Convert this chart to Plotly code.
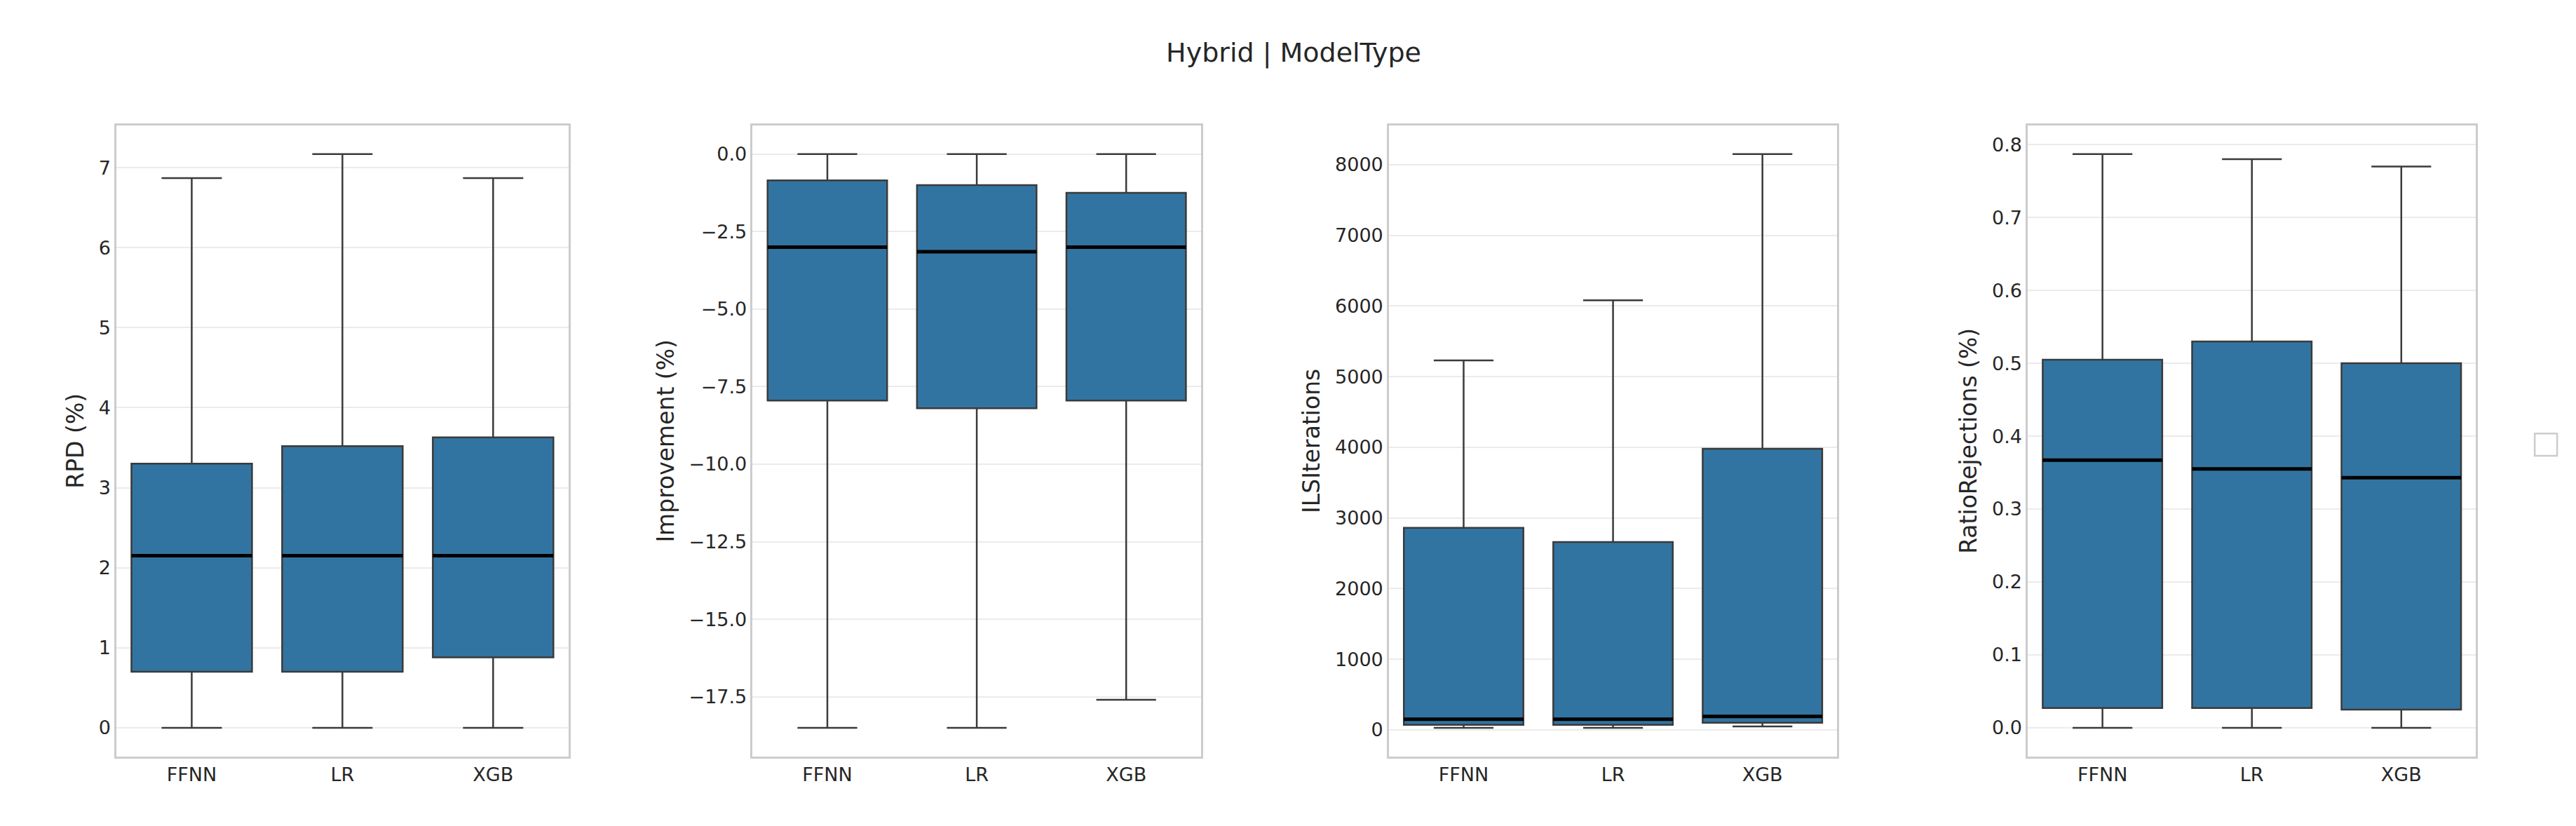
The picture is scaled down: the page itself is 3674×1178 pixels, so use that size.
import plotly.graph_objects as go
from plotly.subplots import make_subplots

models = ["FFNN", "LR", "XGB"]

rpd_lower = [0, 0, 0]
rpd_q1 = [0.70, 0.70, 0.88]
rpd_median = [2.15, 2.15, 2.15]
rpd_q3 = [3.30, 3.52, 3.63]
rpd_upper = [6.87, 7.17, 6.87]

imp_lower = [-18.5, -18.5, -17.6]
imp_q1 = [-7.95, -8.2, -7.95]
imp_median = [-3.0, -3.15, -3.0]
imp_q3 = [-0.85, -1.0, -1.25]
imp_upper = [0, 0, 0]

ils_lower = [30, 30, 50]
ils_q1 = [70, 70, 100]
ils_median = [150, 150, 190]
ils_q3 = [2860, 2660, 3980]
ils_upper = [5230, 6080, 8150]

rr_lower = [0, 0, 0]
rr_q1 = [0.027, 0.027, 0.025]
rr_median = [0.367, 0.355, 0.343]
rr_q3 = [0.505, 0.53, 0.50]
rr_upper = [0.787, 0.78, 0.77]

panels = [
    ("RPD (%)", rpd_lower, rpd_q1, rpd_median, rpd_q3, rpd_upper, [0, 1, 2, 3, 4, 5, 6, 7], None),
    ("Improvement (%)", imp_lower, imp_q1, imp_median, imp_q3, imp_upper,
     [0, -2.5, -5, -7.5, -10, -12.5, -15, -17.5], ["0.0", "−2.5", "−5.0", "−7.5", "−10.0", "−12.5", "−15.0", "−17.5"]),
    ("ILSIterations", ils_lower, ils_q1, ils_median, ils_q3, ils_upper, list(range(0, 8001, 1000)), None),
    ("RatioRejections (%)", rr_lower, rr_q1, rr_median, rr_q3, rr_upper,
     [0, 0.1, 0.2, 0.3, 0.4, 0.5, 0.6, 0.7, 0.8], ["0.0", "0.1", "0.2", "0.3", "0.4", "0.5", "0.6", "0.7", "0.8"]),
]

domains = [(0.043, 0.2185), (0.290, 0.464), (0.537, 0.711), (0.785, 0.959)]

fig = make_subplots(rows=1, cols=4)
xs = [0, 1, 2]
for i, (title, lo, q1, med, q3, up, tv, tt) in enumerate(panels):
    c = i + 1
    fig.add_trace(go.Box(x=xs, lowerfence=lo, q1=q1, median=med, q3=q3, upperfence=up,
                         fillcolor="#3274a1", line=dict(color="#3a3a3a", width=2.5),
                         width=0.8, whiskerwidth=0.5, showlegend=False, hoverinfo="y"),
                  row=1, col=c)
    for x, m in zip(xs, med):
        fig.add_trace(go.Scatter(x=[x - 0.4, x + 0.4], y=[m, m], mode="lines",
                                 line=dict(color="black", width=5), showlegend=False),
                      row=1, col=c)
    span = max(up) - min(lo)
    fig.update_yaxes(title_text=title, tickvals=tv, ticktext=tt,
                     range=[min(lo) - 0.05 * span, max(up) + 0.05 * span], row=1, col=c)
    fig.update_xaxes(domain=domains[i], tickvals=xs, ticktext=models, range=[-0.5, 2.5], row=1, col=c)

fig.update_xaxes(showgrid=False, showline=True, mirror=True, linecolor="#cccccc", linewidth=2.5,
                 ticks="", zeroline=False, tickfont=dict(size=27, color="#262626"))
fig.update_yaxes(domain=[0.091, 0.855], showgrid=True, gridcolor="#ebebeb", gridwidth=2,
                 showline=True, mirror=True, linecolor="#cccccc", linewidth=2.5, ticks="",
                 zeroline=False, tickfont=dict(size=27, color="#262626"),
                 title_font=dict(size=33, color="#262626"), title_standoff=12)

fig.add_shape(type="rect", xref="paper", yref="paper", x0=0.9818, x1=0.9905, y0=0.455, y1=0.482,
              line=dict(color="#cccccc", width=2.5), fillcolor="white")

fig.update_layout(
    width=3674, height=1178,
    title=dict(text="Hybrid | ModelType", x=0.5, xanchor="center", y=0.955,
               font=dict(size=38, color="#262626")),
    font=dict(family="DejaVu Sans, Arial, sans-serif", color="#262626"),
    plot_bgcolor="white", paper_bgcolor="white",
    margin=dict(l=0, r=0, t=0, b=0),
)

fig.write_html("out.html")
